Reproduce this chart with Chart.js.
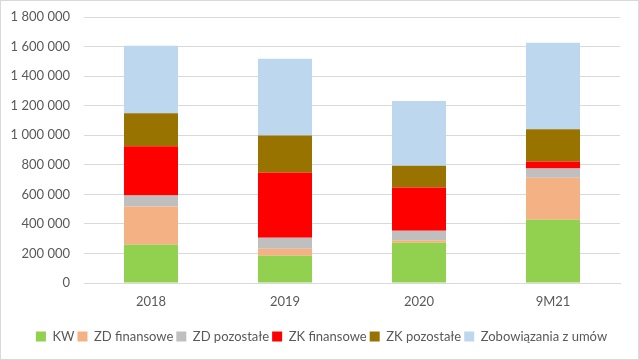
<!DOCTYPE html>
<html>
<head>
<meta charset="utf-8">
<script src="https://cdn.jsdelivr.net/npm/chart.js@4/dist/chart.umd.min.js"></script>
<style>
html,body{margin:0;padding:0;background:#fff;}
#wrap{width:639px;height:360px;box-sizing:border-box;border:1px solid #d9d9d9;background:#fff;}
canvas{display:block;}
</style>
</head>
<body>
<div id="wrap"><canvas id="c" width="637" height="358"></canvas></div>
<script>
const categories = ["2018", "2019", "2020", "9M21"];
const seriesNames = ["KW", "ZD finansowe", "ZD pozostałe", "ZK finansowe", "ZK pozostałe", "Zobowiązania z umów"];
const kw = [258000, 184000, 272000, 428000];
const zdFinansowe = [259000, 47000, 18000, 284000];
const zdPozostale = [75000, 75000, 64000, 63000];
const zkFinansowe = [333000, 442000, 292000, 48000];
const zkPozostale = [224000, 250000, 148000, 217000];
const zobowiazania = [456000, 519000, 437000, 585000];
const yTicks = [0, 200000, 400000, 600000, 800000, 1000000, 1200000, 1400000, 1600000, 1800000];

const colors = ["#92d050", "#f4b183", "#bfbfbf", "#ff0000", "#997300", "#bdd7ee"];
const seriesData = [kw, zdFinansowe, zdPozostale, zkFinansowe, zkPozostale, zobowiazania];

function fmt(v){ return String(v).replace(/\B(?=(\d{3})+(?!\d))/g, " "); }

const FONT = "Lato, 'Liberation Sans', sans-serif";

const legendShift = {
  id: "legendShift",
  afterLayout(chart) {
    if (chart.legend) { chart.legend.left += 11; chart.legend.right += 11; }
  }
};

new Chart(document.getElementById("c"), {
  type: "bar",
  data: {
    labels: categories,
    datasets: seriesNames.map((n, i) => ({
      label: n,
      data: seriesData[i],
      backgroundColor: colors[i],
      borderWidth: 0,
      categoryPercentage: 1,
      barPercentage: 0.403
    }))
  },
  options: {
    responsive: false,
    animation: false,
    layout: { padding: { top: 16, right: 18, bottom: 6, left: 0 } },
    scales: {
      x: {
        stacked: true,
        grid: { display: false },
        border: { display: true, color: "#d9d9d9" },
        ticks: { color: "#595959", font: { family: FONT, size: 13 }, padding: 3 },
        afterFit: s => { s.height = 44; s.paddingLeft = 0; s.paddingRight = 0; }
      },
      y: {
        stacked: true,
        min: 0, max: 1800000,
        afterBuildTicks: s => { s.ticks = yTicks.map(v => ({ value: v })); },
        grid: { color: "#d9d9d9", drawTicks: false },
        border: { display: false },
        ticks: { color: "#595959", font: { family: FONT, size: 13 }, padding: 14, callback: v => fmt(v) },
        afterFit: s => { s.width = 83; s.paddingTop = 0; s.paddingBottom = 0; }
      }
    },
    plugins: {
      legend: {
        position: "bottom",
        labels: {
          color: "#595959",
          font: { family: FONT, size: 13 },
          boxWidth: 10, boxHeight: 10,
          padding: 3
        }
      },
      tooltip: { enabled: false }
    }
  },
  plugins: [legendShift]
});
</script>
</body>
</html>
